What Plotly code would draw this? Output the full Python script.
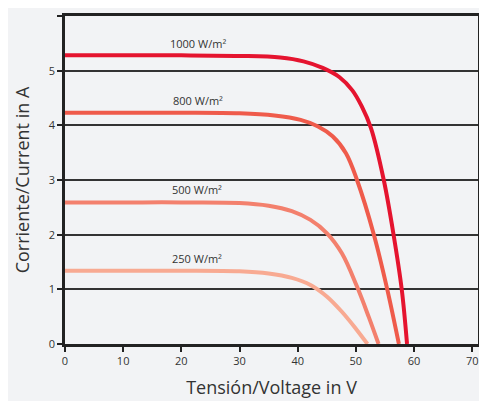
import plotly.graph_objects as go

# Data
v_1000 = [0, 10, 20, 30, 37, 41, 44.3, 47.2, 49.4, 51.0, 52.6, 54.8, 56.5, 57.9, 58.8]
i_1000 = [5.28, 5.28, 5.28, 5.27, 5.24, 5.17, 5.05, 4.88, 4.64, 4.35, 3.95, 3.0, 1.99, 0.99, 0.0]

v_800 = [0, 10, 20, 30, 36, 40.5, 43.5, 46.0, 48.3, 50.2, 53.1, 55.4, 57.4]
i_800 = [4.23, 4.23, 4.23, 4.22, 4.18, 4.10, 3.98, 3.80, 3.49, 3.0, 2.0, 1.0, 0.0]

v_500 = [0, 10, 20, 30, 35, 39.0, 42.2, 45.0, 47.6, 50.2, 52.2, 53.9]
i_500 = [2.59, 2.59, 2.59, 2.58, 2.53, 2.43, 2.27, 2.03, 1.66, 1.05, 0.50, 0.0]

v_250 = [0, 10, 20, 30, 35, 39.0, 42.2, 45.0, 47.6, 50.0, 52.0]
i_250 = [1.34, 1.34, 1.34, 1.33, 1.29, 1.21, 1.08, 0.87, 0.59, 0.28, 0.0]

labels = ["1000 W/m²", "800 W/m²", "500 W/m²", "250 W/m²"]
label_x = [22.9, 22.8, 22.7, 22.7]
label_y = [5.50, 4.46, 2.82, 1.56]

colors = ["#e5142f", "#ef5b4b", "#f3806d", "#f8aa92"]

x_ticks = [0, 10, 20, 30, 40, 50, 60, 70]
y_ticks = [0, 1, 2, 3, 4, 5, 6]

fig = go.Figure()
for v, i, c in [(v_1000, i_1000, colors[0]), (v_800, i_800, colors[1]),
                (v_500, i_500, colors[2]), (v_250, i_250, colors[3])]:
    fig.add_trace(go.Scatter(x=v, y=i, mode="lines",
                             line=dict(color=c, width=4, shape="spline", smoothing=1.0),
                             showlegend=False, hoverinfo="skip"))

for t, x, y in zip(labels, label_x, label_y):
    fig.add_annotation(x=x, y=y, text=t, showarrow=False,
                       font=dict(size=11, color="#333333", family="Open Sans"))

bg = "#f2f3f5"
fig.update_layout(
    width=487, height=401,
    margin=dict(l=57, r=17, t=8, b=65),
    paper_bgcolor=bg, plot_bgcolor=bg,
    font=dict(family="Open Sans", color="#333333"),
    xaxis=dict(range=[0, 71], tickvals=x_ticks, showgrid=False, zeroline=False, automargin=False,
               showline=True, linecolor="#222222", linewidth=2.5, mirror=True,
               ticks="outside", ticklen=5, tickwidth=1.5, tickcolor="#222222",
               tickfont=dict(size=11, color="#333333"),
               title=dict(text="Tensión/Voltage in V", font=dict(size=18, color="#333333"))),
    yaxis=dict(range=[0, 6], tickvals=y_ticks, showgrid=True, gridcolor="#333333", gridwidth=1.8,
               zeroline=False, automargin=False,
               showline=True, linecolor="#222222", linewidth=2.5, mirror=True,
               ticks="outside", ticklen=5, tickwidth=1.5, tickcolor="#222222",
               tickfont=dict(size=11, color="#333333"),
               title=dict(text="Corriente/Current in A", font=dict(size=18, color="#333333"))),
)

fig.write_html("out.html")
